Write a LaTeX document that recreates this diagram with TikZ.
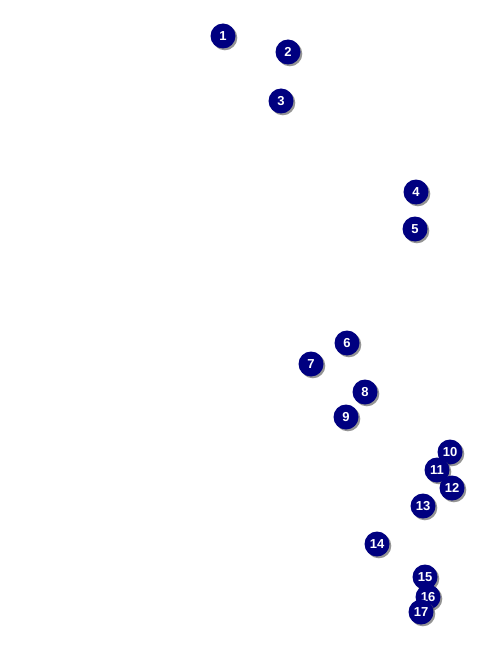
\documentclass[tikz,border=0pt]{standalone}
\usepackage{fontspec}
\setmainfont{Liberation Sans}
\usepackage{xcolor}
\usetikzlibrary{shadows}
\definecolor{navy}{RGB}{0,0,128}

\begin{document}
\begin{tikzpicture}[x=1pt, y=-1pt, font=\bfseries\fontsize{13}{13}\selectfont]
	\tikzset{callout/.style={circle, fill=navy, text=white, minimum size=25pt,
			inner sep=0pt, drop shadow={shadow xshift=1.8pt, shadow yshift=-1.8pt,
				fill=black!60, opacity=0.7}}}
	\useasboundingbox (0,0) rectangle (476,647);
	% numbered callouts, drawn in order so later ones lie on top
	\foreach \n/\x/\y in {1/223/36, 2/288/52, 3/281/101, 4/416/192, 5/415/229,
		6/347/343, 7/311/364, 8/365/392, 9/346/417, 10/450/452, 11/437/470,
		12/452/488, 13/423/506, 14/377/544, 15/425/577, 16/428/597, 17/421/612} {
		\node[callout] (c\n) at (\x,\y) {\n};
	}
\end{tikzpicture}
\end{document}
